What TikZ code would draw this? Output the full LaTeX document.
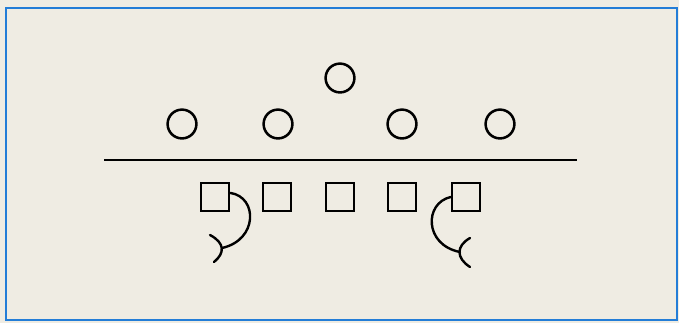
\documentclass[tikz,border=0pt]{standalone}
\usetikzlibrary{calc}
\definecolor{paper}{RGB}{239,236,227}
\definecolor{framecol}{RGB}{35,125,215}
\begin{document}
\begin{tikzpicture}[x=0.025cm, y=-0.025cm,
        player/.style={circle, draw=black, line width=1.8pt, minimum size=0.72cm, inner sep=0pt},
        lineman/.style={rectangle, draw=black, line width=1.8pt, minimum size=0.7cm, inner sep=0pt},
        route/.style={line width=1.7pt, line cap=round},
        scrim/.style={line width=2pt}
    ]
        \useasboundingbox (0,0) rectangle (679,323);
        \fill[paper] (0,0) rectangle (679,323);
        \draw[framecol, line width=1.5pt] (6,8) rectangle (677,320);

        % defence
        \node[player] (mlb) at (340,78) {};
        \node[player] (d1) at (182,124) {};
        \node[player] (d2) at (278,124) {};
        \node[player] (d3) at (402,124) {};
        \node[player] (d4) at (500,124) {};

        \coordinate (sl) at (104,160);
        \coordinate (sr) at (577,160);
        \draw[scrim] (sl) -- (sr);

        % offence
        \node[lineman] (lt) at (215,197) {};
        \node[lineman] (lg) at (277,197) {};
        \node[lineman] (c) at (340,197) {};
        \node[lineman] (rg) at (402,197) {};
        \node[lineman] (rt) at (466,197) {};

        \coordinate (lend) at (222,248);
        \coordinate (rend) at (460,252);

        \draw[route] (lt.15) .. controls (258,197) and (258,240) .. (lend);
        \draw[route] ($(lend)+(-12,-13)$) .. controls ($(lend)+(3,-5)$) and ($(lend)+(3,5)$) .. ($(lend)+(-8,14)$);
        \draw[route] (rt.west) .. controls (424,203) and (424,245) .. (rend);
        \draw[route] ($(rend)+(10,-14)$) .. controls ($(rend)+(-4,-6)$) and ($(rend)+(-4,6)$) .. ($(rend)+(10,15)$);
    \end{tikzpicture}
\end{document}
